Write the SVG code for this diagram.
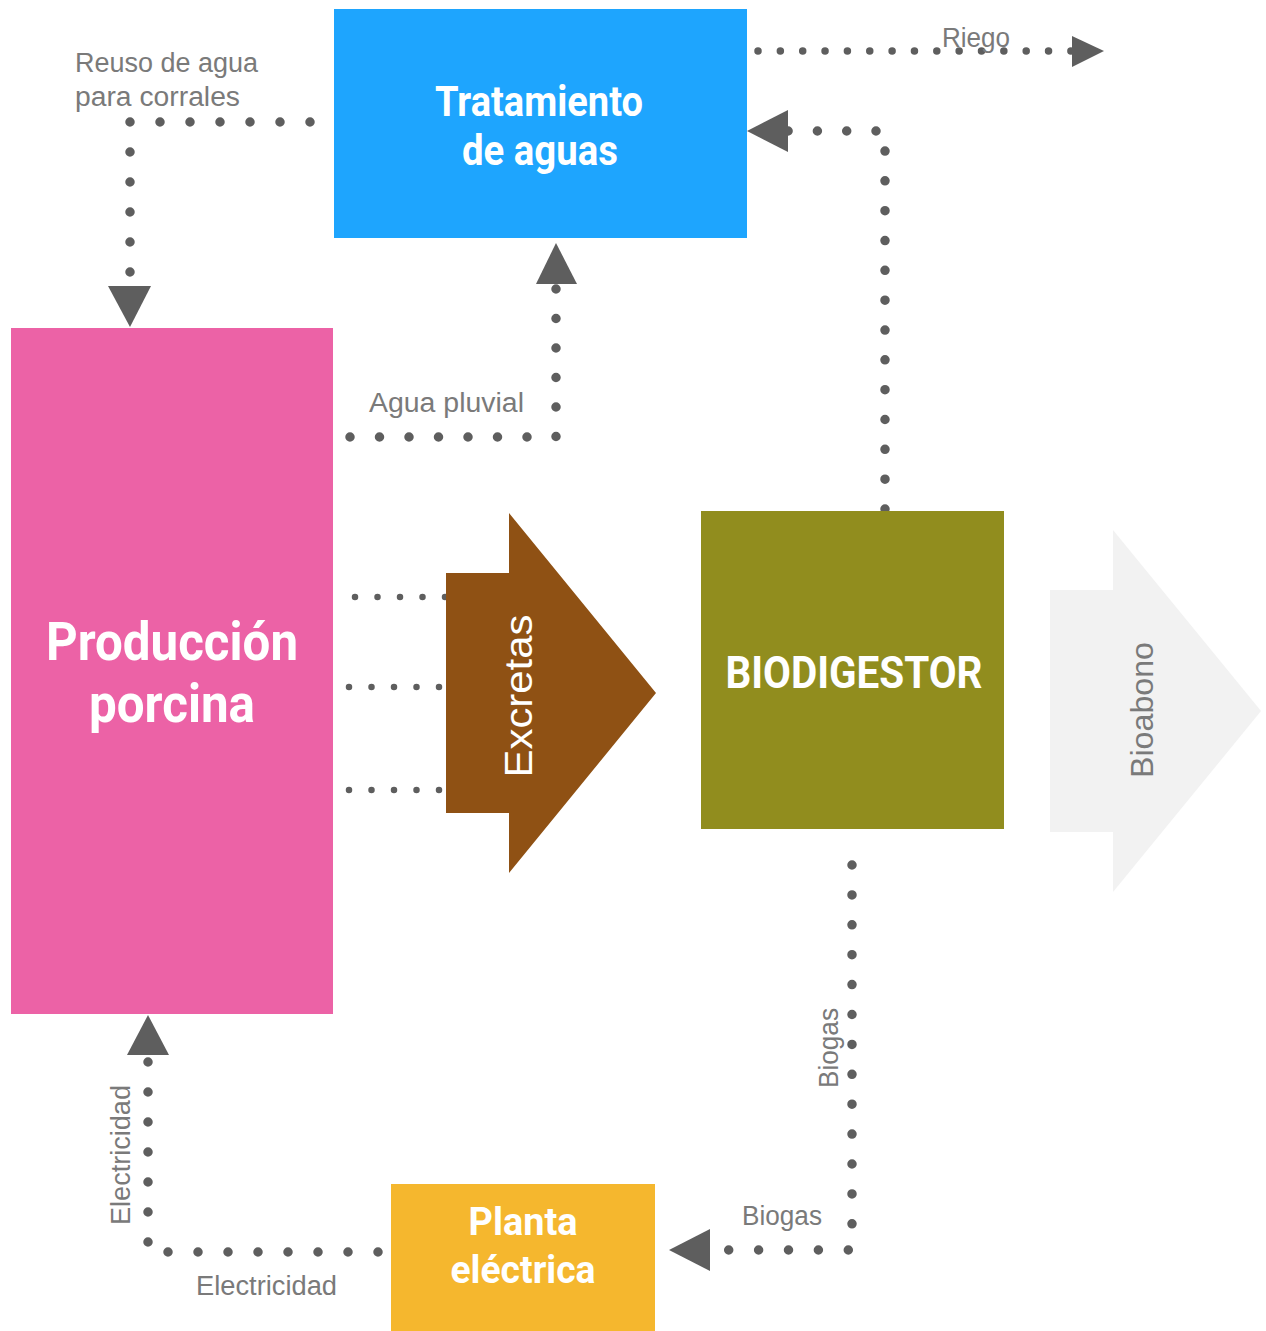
<svg xmlns="http://www.w3.org/2000/svg" width="1266" height="1331" viewBox="0 0 1266 1331">
  <style>
    .node-text { font-family: Roboto, "Liberation Sans", sans-serif; font-weight: 700; fill: #ffffff; text-anchor: middle; }
    .label { font-family: "Liberation Sans", Arial, sans-serif; font-size: 27px; fill: #7a7a7a; }
    .dots { fill: none; stroke: #5e5e5e; stroke-linecap: round; stroke-width: 9.5; stroke-dasharray: 0 30; }
    .dots-fine { fill: none; stroke: #5e5e5e; stroke-linecap: round; stroke-width: 6.5; stroke-dasharray: 0 22.5; }
    .head { fill: #5e5e5e; }
  </style>
  <rect width="1266" height="1331" fill="#ffffff"/>

  <!-- Connectors -->
  <g id="connectors">
    <!-- Reuse of water for pens -->
    <path class="dots" d="M310,122 H130 V274"/>
    <polygon class="head" points="108,286 151,286 130,327"/>

    <!-- Irrigation outflow -->
    <path class="dots" style="stroke-width:7.5;stroke-dasharray:0 22.35" d="M758,51 H1073"/>
    <polygon class="head" points="1072,36 1072,67 1104,51"/>

    <!-- Digester return to water treatment -->
    <path class="dots" style="stroke-dasharray:0 29.83" d="M885,509 V149"/>
    <path class="dots" style="stroke-dasharray:0 29.3" d="M876,131 H787"/>
    <polygon class="head" points="788,110 788,152 747,131"/>

    <!-- Rainwater -->
    <path class="dots" style="stroke-dasharray:0 29.5" d="M350,437 H556 V283"/>
    <polygon class="head" points="536,284 577,284 556,243"/>

    <!-- Excreta feed lines -->
    <path class="dots-fine" d="M355,597 H447"/>
    <path class="dots-fine" d="M349,687 H441"/>
    <path class="dots-fine" d="M349,790 H441"/>

    <!-- Biogas to power plant -->
    <path class="dots" style="stroke-dasharray:0 29.9" d="M852,865 V1250 H727"/>
    <polygon class="head" points="710,1229 710,1271 669,1250"/>

    <!-- Electricity back to production -->
    <path class="dots" d="M378,1252 H148 V1060"/>
    <polygon class="head" points="127,1055 169,1055 148,1015"/>

    <!-- Connector labels -->
    <text class="label" x="75" y="72" textLength="183" lengthAdjust="spacingAndGlyphs">Reuso de agua</text>
    <text class="label" x="75" y="106" textLength="165" lengthAdjust="spacingAndGlyphs">para corrales</text>
    <text class="label" x="942" y="47" font-size="26" textLength="68" lengthAdjust="spacingAndGlyphs">Riego</text>
    <text class="label" x="369" y="412" textLength="155" lengthAdjust="spacingAndGlyphs">Agua pluvial</text>
    <text class="label" transform="translate(838,1048) rotate(-90)" x="-40" y="0" font-size="26" textLength="80" lengthAdjust="spacingAndGlyphs">Biogas</text>
    <text class="label" x="742" y="1225" font-size="26" textLength="80" lengthAdjust="spacingAndGlyphs">Biogas</text>
    <text class="label" transform="translate(130,1155) rotate(-90)" x="-70" y="0" textLength="140" lengthAdjust="spacingAndGlyphs">Electricidad</text>
    <text class="label" x="196" y="1295" textLength="141" lengthAdjust="spacingAndGlyphs">Electricidad</text>
  </g>

  <!-- Water treatment -->
  <g id="tratamiento">
    <rect x="334" y="9" width="413" height="229" fill="#1ea5fe"/>
    <text class="node-text" x="539" y="116" font-size="42" textLength="208" lengthAdjust="spacingAndGlyphs">Tratamiento</text>
    <text class="node-text" x="540" y="165" font-size="42" textLength="156" lengthAdjust="spacingAndGlyphs">de aguas</text>
  </g>

  <!-- Pig production -->
  <g id="produccion">
    <rect x="11" y="328" width="322" height="686" fill="#ec62a6"/>
    <text class="node-text" x="172" y="660" font-size="53" textLength="252" lengthAdjust="spacingAndGlyphs">Producción</text>
    <text class="node-text" x="172" y="722" font-size="53" textLength="166" lengthAdjust="spacingAndGlyphs">porcina</text>
  </g>

  <!-- Excreta arrow -->
  <g id="excretas">
    <polygon points="446,573 509,573 509,513 656,693 509,873 509,813 446,813" fill="#8f5114"/>
    <text transform="translate(532,696) rotate(-90)" x="0" y="0" font-family="'Liberation Sans', Arial, sans-serif" font-size="39" fill="#ffffff" text-anchor="middle" textLength="163" lengthAdjust="spacingAndGlyphs">Excretas</text>
  </g>

  <!-- Digester -->
  <g id="biodigestor">
    <rect x="701" y="511" width="303" height="318" fill="#918d1e"/>
    <text class="node-text" x="854" y="688" font-size="44" textLength="257" lengthAdjust="spacingAndGlyphs">BIODIGESTOR</text>
  </g>

  <!-- Bio-fertilizer arrow -->
  <g id="bioabono">
    <polygon points="1050,590 1113,590 1113,530 1261,711 1113,892 1113,832 1050,832" fill="#f2f2f2"/>
    <text transform="translate(1153,710) rotate(-90)" x="0" y="0" font-family="'Liberation Sans', Arial, sans-serif" font-size="32" fill="#7a7a7a" text-anchor="middle" textLength="136" lengthAdjust="spacingAndGlyphs">Bioabono</text>
  </g>

  <!-- Power plant -->
  <g id="planta">
    <rect x="391" y="1184" width="264" height="147" fill="#f5b72e"/>
    <text class="node-text" x="523" y="1235" font-size="38" textLength="109" lengthAdjust="spacingAndGlyphs">Planta</text>
    <text class="node-text" x="523" y="1283" font-size="38" textLength="145" lengthAdjust="spacingAndGlyphs">eléctrica</text>
  </g>
</svg>
